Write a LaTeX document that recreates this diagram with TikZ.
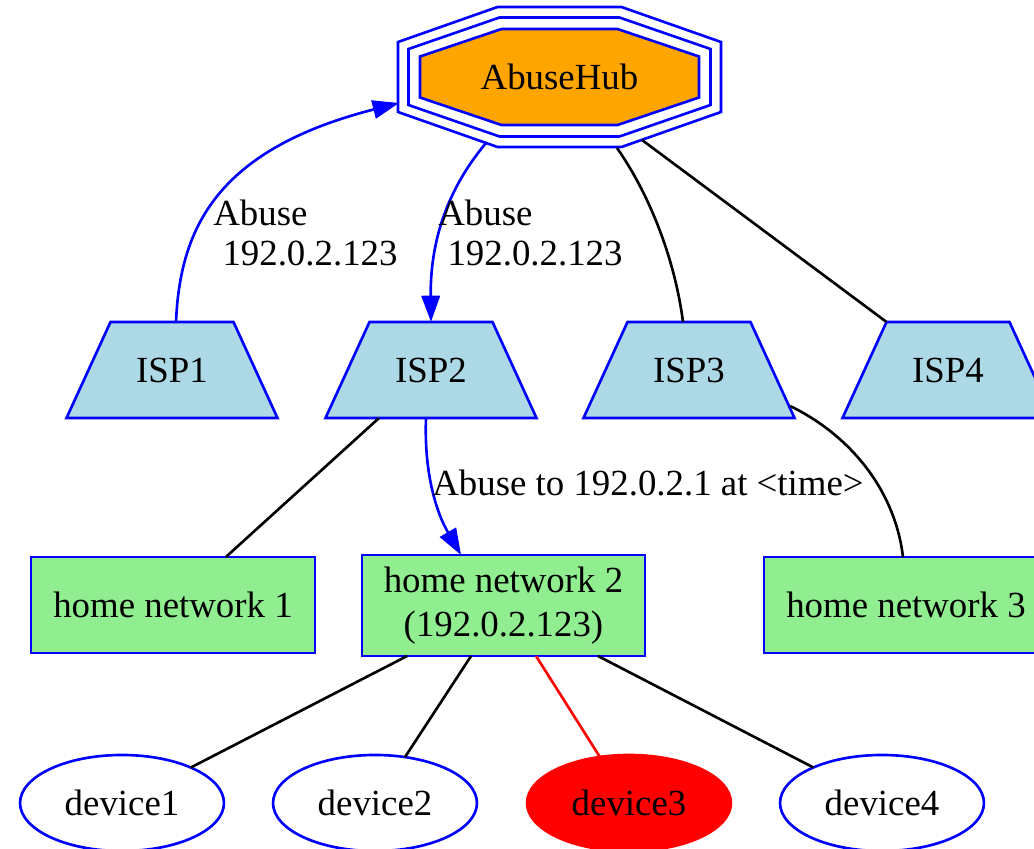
\documentclass[tikz,border=0pt]{standalone}
\usepackage{fontspec}
\setmainfont{Liberation Serif}
\usetikzlibrary{shapes.geometric,arrows.meta,calc}
\definecolor{hubor}{HTML}{FFA500}
\definecolor{ispblue}{HTML}{ADD8E6}
\definecolor{hngreen}{HTML}{90EE90}
\begin{document}
\begin{tikzpicture}[x=0.38pt,y=-0.38pt,line width=1pt,
  txt/.style={font=\fontsize{14}{16.8}\selectfont},
  lbl/.style={font=\fontsize{14}{15.2}\selectfont,align=left,inner sep=0pt,anchor=base west},
  isp/.style={txt,rectangle,minimum width=80.2pt,minimum height=36.5pt,inner sep=0pt,outer sep=0pt},
  ispshape/.style={draw=blue,fill=ispblue},
  hn/.style={txt,rectangle,draw=blue,fill=hngreen,minimum width=107.9pt,minimum height=36.5pt,inner sep=0pt,outer sep=0pt,align=center},
  dev/.style={txt,ellipse,draw=blue,minimum width=77.5pt,minimum height=36.5pt,inner sep=0pt,outer sep=0pt},
  arr/.style={-{Triangle[length=10pt,width=7pt]}},
  octo/.style={draw=blue}]
\useasboundingbox (0,0) rectangle (1034,849);
% hub
\coordinate (hc) at (559.5,77);
\draw[octo] ($(hc)+(-62,-70)$) -- ($(hc)+(62,-70)$) -- ($(hc)+(161.5,-35)$) -- ($(hc)+(161.5,35)$) -- ($(hc)+(62,70)$) -- ($(hc)+(-62,70)$) -- ($(hc)+(-161.5,35)$) -- ($(hc)+(-161.5,-35)$) -- cycle;
\draw[octo] ($(hc)+(-60,-59.5)$) -- ($(hc)+(60,-59.5)$) -- ($(hc)+(151,-28)$) -- ($(hc)+(151,28)$) -- ($(hc)+(60,59.5)$) -- ($(hc)+(-60,59.5)$) -- ($(hc)+(-151,28)$) -- ($(hc)+(-151,-28)$) -- cycle;
\draw[octo,fill=hubor] ($(hc)+(-58,-48)$) -- ($(hc)+(58,-48)$) -- ($(hc)+(139.5,-20.5)$) -- ($(hc)+(139.5,20.5)$) -- ($(hc)+(58,48)$) -- ($(hc)+(-58,48)$) -- ($(hc)+(-139.5,20.5)$) -- ($(hc)+(-139.5,-20.5)$) -- cycle;
\node[txt,inner sep=0pt] (hub) at (hc) {AbuseHub};
\coordinate (hubw) at (399,103);
\coordinate (hubsw) at (486,143);
\coordinate (hubs) at (617,148);
\coordinate (hubse) at (642,140);
% ISP trapezia
\foreach \cx in {172,431,689,948}
  \draw[ispshape] (\cx-105.5,418) -- (\cx-61.5,322) -- (\cx+61.5,322) -- (\cx+105.5,418) -- cycle;
\node[isp] (isp1) at (172,370) {ISP1};
\node[isp] (isp2) at (431,370) {ISP2};
\node[isp] (isp3) at (689,370) {ISP3};
\node[isp] (isp4) at (948,370) {ISP4};
% home networks
\node[hn] (hn1) at (173,605) {home network 1};
\node[hn,minimum width=107.5pt,minimum height=38.4pt] (hn2) at (503.5,605.5) {home network 2\\(192.0.2.123)};
\node[hn] (hn3) at (906,605) {home network 3};
% devices
\node[dev] (dev1) at (122,803) {device1};
\node[dev] (dev2) at (375,803) {device2};
\node[dev,draw=red,fill=red] (dev3) at (629,803) {device3};
\node[dev] (dev4) at (882,803) {device4};
% edges
\draw[blue,arr] ($(isp1.north)+(4,0)$) .. controls (180,230) and (215,150) .. (hubw);
\node[lbl] (l1) at (212,265) {Abuse\\\hspace{0.25em}192.0.2.123};
\draw[blue,arr] (hubsw) .. controls (455,180) and (430,230) .. (isp2.north);
\node[lbl] (l2) at (437,265) {Abuse\\\hspace{0.25em}192.0.2.123};
\draw (hubs) .. controls (650,195) and (675,260) .. ($(isp3.north)+(-6,0)$);
\draw (hubse) -- ($(isp4.north)+(-61.5,0)$);
\draw ($(isp2.south)+(-52,0)$) -- (hn1);
\draw[blue,arr] ($(isp2.south)+(-5,0)$) .. controls (424,470) and (435,510) .. ($(hn2.north west)+(99,0)$);
\node[lbl] (l3) at (431,495) {Abuse to 192.0.2.1 at <time>};
\draw ($(isp3.east)+(-4.5,36)$) .. controls (850,435) and (895,490) .. ($(hn3.north)+(-3,0)$);
\draw ($(hn2.south west)+(45,0)$) -- (dev1);
\draw ($(hn2.south west)+(109,0)$) -- (dev2);
\draw[red] ($(hn2.south west)+(174,0)$) -- (dev3);
\draw ($(hn2.south west)+(236,0)$) -- (dev4);
\end{tikzpicture}
\end{document}
